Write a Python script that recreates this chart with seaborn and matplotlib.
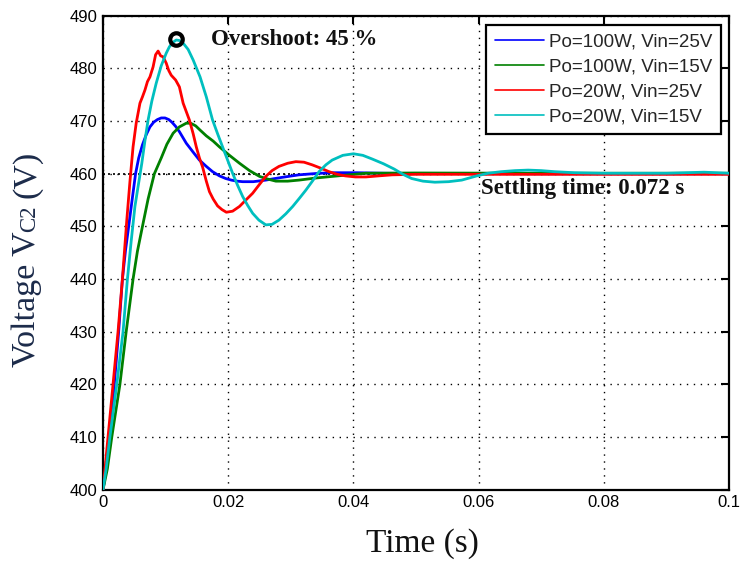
import numpy as np
import pandas as pd
import matplotlib
matplotlib.use('Agg')
import matplotlib.pyplot as plt
import seaborn as sns

# ---- data (time in s, voltage in V) ----
t_blue = [0, 0.0005, 0.0010, 0.0018, 0.0025, 0.0031, 0.0036, 0.0041, 0.0047, 0.0052,
          0.0057, 0.0063, 0.0069, 0.0075, 0.0081, 0.0087, 0.0093, 0.0099, 0.0105,
          0.0110, 0.0116, 0.0122, 0.0133, 0.0144, 0.0154, 0.0165, 0.0175, 0.0186,
          0.0196, 0.0205, 0.0214, 0.0223, 0.0240, 0.0260, 0.0285, 0.0313, 0.0340,
          0.0366, 0.0405, 0.0450, 0.0500, 0.0700, 0.1000]
v_blue = [400, 404, 410, 420, 430, 440, 445.5, 450, 455.5, 460,
          463.0, 465.5, 467.4, 468.9, 469.8, 470.3, 470.6, 470.6, 470.3,
          469.8, 469.0, 468.0, 465.8, 464.1, 462.6, 461.4, 460.4, 459.6,
          459.1, 458.8, 458.6, 458.5, 458.5, 458.8, 459.3, 459.8, 460.05,
          460.2, 460.2, 460.1, 460.05, 460.0, 460.0]

t_green = [0, 0.0007, 0.0014, 0.0027, 0.0037, 0.0048, 0.0055, 0.0063, 0.0072, 0.0082,
           0.0093, 0.0102, 0.0112, 0.0122, 0.0133, 0.0140, 0.0148, 0.0155, 0.0165,
           0.0176, 0.0186, 0.0202, 0.0218, 0.0234, 0.0250, 0.0263, 0.0276, 0.0295,
           0.0313, 0.0340, 0.0366, 0.0393, 0.0420, 0.0500, 0.0700, 0.1000]
v_green = [400, 404, 410, 420, 430, 440, 445.3, 450, 455.2, 460,
           463.0, 465.6, 467.7, 468.9, 469.6, 469.6, 469.1, 468.3, 467.2,
           466.2, 465.1, 463.5, 462.0, 460.6, 459.5, 459.0, 458.6, 458.6,
           458.8, 459.2, 459.5, 459.8, 460.1, 460.15, 460.1, 460.1]

t_red = [0, 0.0004, 0.0008, 0.0016, 0.0024, 0.0031, 0.0038, 0.0043, 0.0048, 0.0053,
         0.0059, 0.0063, 0.0067, 0.0071, 0.0075, 0.0080, 0.0084, 0.0088, 0.0092,
         0.0096, 0.0101, 0.0105, 0.0109, 0.0116, 0.0122, 0.0128, 0.0133, 0.0138,
         0.0144, 0.0149, 0.0154, 0.0159, 0.0165, 0.0170, 0.0176, 0.0183, 0.0190,
         0.0197, 0.0207, 0.0218, 0.0228, 0.0239, 0.0250, 0.0260, 0.0270, 0.0281,
         0.0295, 0.0308, 0.0321, 0.0334, 0.0347, 0.0361, 0.0374, 0.0387, 0.0403,
         0.0420, 0.0440, 0.0462, 0.0500, 0.0700, 0.1000]
v_red = [400, 405, 410, 420, 430, 440, 451.2, 458.5, 465.1, 469.6,
         473.4, 474.6, 475.9, 477.5, 478.4, 480.3, 482.6, 483.3, 482.4,
         482.2, 481.0, 479.6, 478.7, 477.8, 476.5, 473.4, 471.8, 470.2,
         467.6, 465.1, 463.0, 461.3, 458.6, 456.6, 455.2, 453.9, 453.2,
         452.7, 452.9, 453.8, 455.0, 456.3, 458.0, 459.5, 460.6, 461.4,
         462.0, 462.3, 462.2, 461.7, 461.1, 460.4, 459.9, 459.6, 459.4,
         459.4, 459.6, 459.8, 459.9, 459.9, 459.9]

t_cyan = [0, 0.0005, 0.0011, 0.0022, 0.0032, 0.0039, 0.0045, 0.0051, 0.0057, 0.0062,
          0.0067, 0.0072, 0.0078, 0.0085, 0.0093, 0.0101, 0.0106, 0.0111, 0.0117,
          0.0122, 0.0128, 0.0136, 0.0144, 0.0155, 0.0165, 0.0175, 0.0183, 0.0191,
          0.0199, 0.0207, 0.0215, 0.0223, 0.0231, 0.0239, 0.0249, 0.0260, 0.0270,
          0.0281, 0.0292, 0.0303, 0.0314, 0.0324, 0.0335, 0.0345, 0.0356, 0.0366,
          0.0383, 0.0400, 0.0415, 0.0430, 0.0448, 0.0465, 0.0479, 0.0493, 0.0511,
          0.0530, 0.0552, 0.0573, 0.0597, 0.0615, 0.0636, 0.0658, 0.0679, 0.0700,
          0.0721, 0.0753, 0.0800, 0.0900, 0.0960, 0.1000]
v_cyan = [400, 404, 410, 420, 430, 440, 447.2, 453.8, 458.3, 462.0,
          466.3, 470.2, 473.8, 477.2, 480.5, 482.9, 484.1, 484.9, 485.4,
          485.3, 484.8, 483.6, 481.6, 478.4, 474.6, 470.2, 467.6, 465.1,
          462.6, 460.1, 457.8, 455.7, 454.0, 452.5, 451.2, 450.3, 450.4,
          451.2, 452.4, 453.8, 455.4, 456.9, 458.7, 460.4, 461.7, 462.6,
          463.5, 463.8, 463.5, 462.8, 461.9, 460.9, 459.9, 459.1, 458.6,
          458.4, 458.5, 458.8, 459.6, 460.1, 460.4, 460.6, 460.7, 460.6,
          460.4, 460.2, 460.1, 460.1, 460.3, 460.1]

labels = ['Po=100W, Vin=25V', 'Po=100W, Vin=15V', 'Po=20W, Vin=25V', 'Po=20W, Vin=15V']
colors = ['#0000ff', '#008000', '#ff0000', '#00bfbf']
series = [(t_blue, v_blue), (t_green, v_green), (t_red, v_red), (t_cyan, v_cyan)]

overshoot_pt = (0.0117, 485.5)
x_ticks = [0, 0.02, 0.04, 0.06, 0.08, 0.1]
x_ticklabels = ['0', '0.02', '0.04', '0.06', '0.08', '0.1']
y_ticks = list(range(400, 491, 10))

# ---- plot ----
sns.set_style('white')
plt.rcParams['font.family'] = ['Liberation Sans', 'DejaVu Sans']

fig = plt.figure(figsize=(7.41, 5.63), dpi=100)
ax = fig.add_axes([0.139, 0.130, 0.845, 0.842])

ax.axhline(460, color='black', lw=1.2, ls=(0, (1.2, 1.8)), zorder=1)

for (t, v), lab, col in zip(series, labels, colors):
    df = pd.DataFrame({'t': t, 'v': v})
    sns.lineplot(data=df, x='t', y='v', ax=ax, color=col, lw=2.0, label=lab,
                 estimator=None, sort=False, zorder=3, solid_joinstyle='round')

ax.plot(*overshoot_pt, marker='o', ms=9, mew=3, mec='black', mfc='none', zorder=5)

ax.text(0.0173, 485.4, 'Overshoot: 45 %', fontsize=16.5, fontweight='bold',
        family='Liberation Serif', ha='left', va='center', color='#111111')
ax.text(0.0603, 456.2, 'Settling time: 0.072 s', fontsize=16.5, fontweight='bold',
        family='Liberation Serif', ha='left', va='baseline', color='#111111')

ax.set_xlim(0, 0.1)
ax.set_ylim(400, 490)
ax.set_xticks(x_ticks)
ax.set_xticklabels(x_ticklabels)
ax.set_yticks(y_ticks)
ax.set_xlabel('')
ax.set_ylabel('')
ax.tick_params(direction='in', length=6, width=1.5, top=True, right=True,
               labelsize=12, pad=4, colors='black')
ax.grid(True, color='black', lw=1.0, ls=(0, (1, 4)))
for sp in ax.spines.values():
    sp.set_color('black')
    sp.set_linewidth(1.6)

leg = ax.legend(loc='upper right', bbox_to_anchor=(0.987, 0.981), borderaxespad=0,
                fontsize=13.5, frameon=True, fancybox=False, framealpha=1,
                edgecolor='black', handlelength=2.6, handletextpad=0.3,
                labelspacing=0.42, borderpad=0.45)
leg.get_frame().set_linewidth(1.6)
for h in leg.legend_handles:
    h.set_linewidth(1.2)

# x label
fig.text(422.5 / 741, 1 - 551.7 / 563, 'Time (s)', fontsize=24, family='Liberation Serif',
         ha='center', va='baseline', color='#111111')

# y label built from pieces so that "C2" is smaller and sits on the baseline
navy = '#1c2b4a'
renderer = fig.canvas.get_renderer()
parts = [('Voltage V', 24.5), ('C2', 16.5), ('(V)', 24.5)]
gaps = [0, 0, 7]
texts, lengths = [], []
for s, fs in parts:
    tx = fig.text(0, 0, s, rotation=90, rotation_mode='anchor', ha='left', va='baseline',
                  fontsize=fs, family='Liberation Serif', color=navy)
    texts.append(tx)
    lengths.append(tx.get_window_extent(renderer).height)
total = sum(lengths) + sum(gaps)
y_px = (563 - 259) - total / 2
for tx, L, g in zip(texts, lengths, gaps):
    y_px += g
    tx.set_position((35 / 741, y_px / 563))
    y_px += L

fig.savefig('out.png', dpi=100)
